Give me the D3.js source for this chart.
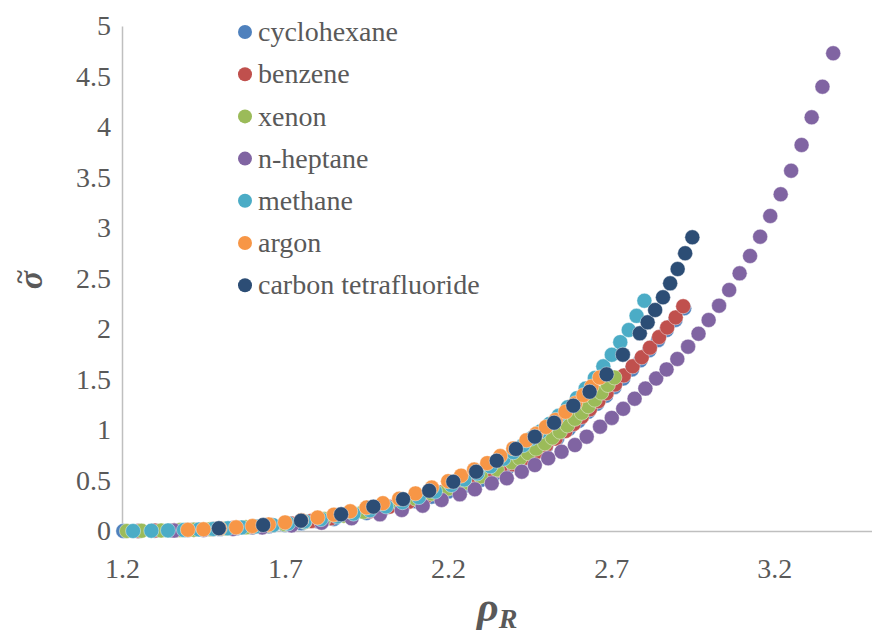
<!DOCTYPE html>
<html>
<head>
<meta charset="utf-8">
<script src="https://d3js.org/d3.v7.min.js"></script>
<style>
    body { margin: 0; background: #fff; }
    text { font-family: "Liberation Serif", "Times New Roman", serif; fill: #595959; }
</style>
</head>
<body>
<svg id="chart"></svg>
<script>
// Series data (rho_R, reduced surface tension)
const cyclohexaneX = [1.204, 1.25, 1.30, 1.35, 1.40, 1.45, 1.50, 1.55, 1.60, 1.65, 1.70, 1.75, 1.80, 1.85, 1.90, 1.95, 2.00, 2.05, 2.10, 2.15, 2.20, 2.25, 2.30, 2.34, 2.38, 2.42, 2.46, 2.50, 2.535, 2.57, 2.60, 2.63, 2.657, 2.684, 2.71, 2.737, 2.764, 2.79, 2.817, 2.844, 2.87, 2.897, 2.924];
const cyclohexaneY = [0, 0.001, 0.003, 0.005, 0.009, 0.013, 0.019, 0.026, 0.035, 0.046, 0.06, 0.076, 0.096, 0.12, 0.147, 0.178, 0.213, 0.252, 0.295, 0.34, 0.39, 0.445, 0.505, 0.56, 0.615, 0.675, 0.745, 0.835, 0.92, 1.01, 1.09, 1.18, 1.26, 1.34, 1.425, 1.51, 1.60, 1.69, 1.79, 1.89, 1.99, 2.09, 2.205];

const benzeneX = [1.25, 1.30, 1.36, 1.42, 1.48, 1.54, 1.60, 1.66, 1.72, 1.78, 1.84, 1.90, 1.96, 2.02, 2.08, 2.13, 2.18, 2.23, 2.28, 2.32, 2.36, 2.40, 2.44, 2.47, 2.50, 2.53, 2.56, 2.585, 2.61, 2.635, 2.661, 2.686, 2.712, 2.739, 2.766, 2.794, 2.819, 2.847, 2.872, 2.898, 2.921];
const benzeneY = [0, 0.004, 0.008, 0.013, 0.02, 0.029, 0.041, 0.056, 0.075, 0.098, 0.126, 0.158, 0.196, 0.24, 0.29, 0.335, 0.383, 0.435, 0.495, 0.545, 0.60, 0.66, 0.725, 0.78, 0.845, 0.915, 0.99, 1.06, 1.13, 1.205, 1.285, 1.365, 1.45, 1.54, 1.63, 1.72, 1.815, 1.92, 2.015, 2.115, 2.225];

const xenonX = [1.215, 1.26, 1.32, 1.378, 1.42, 1.47, 1.52, 1.58, 1.64, 1.70, 1.76, 1.82, 1.88, 1.94, 2.00, 2.05, 2.10, 2.15, 2.20, 2.25, 2.30, 2.35, 2.395, 2.42, 2.446, 2.47, 2.497, 2.52, 2.543, 2.566, 2.589, 2.61, 2.63, 2.65, 2.67, 2.69, 2.71];
const xenonY = [0, 0.002, 0.005, 0.009, 0.012, 0.018, 0.025, 0.036, 0.05, 0.068, 0.09, 0.118, 0.152, 0.19, 0.235, 0.275, 0.32, 0.37, 0.42, 0.475, 0.54, 0.61, 0.68, 0.72, 0.77, 0.815, 0.868, 0.925, 0.983, 1.045, 1.11, 1.17, 1.235, 1.30, 1.37, 1.445, 1.52];

const heptaneX = [1.36, 1.45, 1.54, 1.63, 1.72, 1.812, 1.904, 1.991, 2.058, 2.122, 2.18, 2.236, 2.282, 2.334, 2.38, 2.426, 2.466, 2.507, 2.548, 2.589, 2.625, 2.666, 2.702, 2.737, 2.772, 2.805, 2.838, 2.87, 2.903, 2.936, 2.968, 2.999, 3.031, 3.062, 3.094, 3.126, 3.157, 3.188, 3.22, 3.252, 3.284, 3.315, 3.348, 3.381];
const heptaneY = [0.004, 0.01, 0.02, 0.035, 0.055, 0.082, 0.126, 0.165, 0.208, 0.251, 0.307, 0.363, 0.413, 0.472, 0.522, 0.587, 0.653, 0.72, 0.785, 0.851, 0.934, 1.033, 1.12, 1.21, 1.31, 1.41, 1.51, 1.60, 1.703, 1.825, 1.953, 2.089, 2.231, 2.386, 2.551, 2.723, 2.914, 3.119, 3.334, 3.567, 3.822, 4.096, 4.399, 4.73];

const methaneX = [1.234, 1.29, 1.341, 1.39, 1.436, 1.48, 1.525, 1.567, 1.61, 1.663, 1.71, 1.76, 1.81, 1.86, 1.91, 1.96, 2.01, 2.06, 2.11, 2.16, 2.21, 2.25, 2.29, 2.33, 2.37, 2.40, 2.43, 2.455, 2.483, 2.511, 2.539, 2.567, 2.595, 2.622, 2.65, 2.676, 2.702, 2.728, 2.754, 2.778, 2.802];
const methaneY = [0, 0.003, 0.006, 0.01, 0.015, 0.02, 0.027, 0.035, 0.045, 0.058, 0.075, 0.095, 0.117, 0.143, 0.172, 0.205, 0.243, 0.285, 0.335, 0.39, 0.455, 0.51, 0.57, 0.64, 0.715, 0.78, 0.85, 0.915, 0.985, 1.06, 1.14, 1.225, 1.315, 1.41, 1.515, 1.63, 1.745, 1.87, 1.99, 2.13, 2.28];

const argonX = [1.402, 1.45, 1.50, 1.55, 1.60, 1.65, 1.70, 1.75, 1.80, 1.85, 1.90, 1.95, 2.00, 2.05, 2.10, 2.15, 2.20, 2.24, 2.28, 2.32, 2.36, 2.40, 2.44, 2.47, 2.50, 2.53, 2.56, 2.59, 2.615, 2.64, 2.665];
const argonY = [0.012, 0.017, 0.025, 0.036, 0.049, 0.065, 0.085, 0.107, 0.133, 0.162, 0.195, 0.233, 0.275, 0.32, 0.372, 0.43, 0.493, 0.548, 0.608, 0.672, 0.742, 0.818, 0.898, 0.962, 1.03, 1.10, 1.18, 1.265, 1.345, 1.43, 1.52];

const cf4X = [1.497, 1.633, 1.749, 1.872, 1.971, 2.062, 2.142, 2.216, 2.286, 2.349, 2.408, 2.466, 2.525, 2.584, 2.634, 2.686, 2.736, 2.788, 2.812, 2.835, 2.859, 2.881, 2.904, 2.927, 2.949];
const cf4Y = [0.027, 0.059, 0.102, 0.165, 0.241, 0.315, 0.399, 0.488, 0.587, 0.696, 0.812, 0.934, 1.072, 1.241, 1.379, 1.551, 1.746, 1.957, 2.066, 2.188, 2.314, 2.452, 2.594, 2.75, 2.908];

const seriesNames = ["cyclohexane", "benzene", "xenon", "n-heptane", "methane", "argon", "carbon tetrafluoride"];
const seriesColors = ["#4F81BD", "#C0504D", "#9BBB59", "#8064A2", "#4BACC6", "#F79646", "#2C4D75"];
const seriesX = [cyclohexaneX, benzeneX, xenonX, heptaneX, methaneX, argonX, cf4X];
const seriesY = [cyclohexaneY, benzeneY, xenonY, heptaneY, methaneY, argonY, cf4Y];

const xTicks = [1.2, 1.7, 2.2, 2.7, 3.2];
const yTicks = [0, 0.5, 1, 1.5, 2, 2.5, 3, 3.5, 4, 4.5, 5];

// Set up dimensions and margins
const margin = { top: 26, right: 0, bottom: 104, left: 122 };
const width = 872 - margin.left - margin.right;
const height = 635 - margin.top - margin.bottom;

const svg = d3.select("#chart")
    .attr("width", width + margin.left + margin.right)
    .attr("height", height + margin.top + margin.bottom);

const g = svg.append("g")
    .attr("transform", `translate(${margin.left},${margin.top})`);

const xScale = d3.scaleLinear().domain([1.2, 3.5]).range([0, width]);
const yScale = d3.scaleLinear().domain([0, 5]).range([height, 0]);

// Axes
const xAxis = g.append("g")
    .attr("transform", `translate(0,${height})`)
    .call(d3.axisBottom(xScale).tickValues(xTicks).tickSize(0).tickSizeOuter(0)
        .tickPadding(27).tickFormat(d3.format(".1f")));

const yAxis = g.append("g")
    .call(d3.axisLeft(yScale).tickValues(yTicks).tickSize(0).tickSizeOuter(0)
        .tickPadding(11).tickFormat(d => String(d)));

[xAxis, yAxis].forEach(ax => {
    ax.select(".domain").attr("stroke", "#BFBFBF").attr("stroke-width", 1.5);
    ax.selectAll("text")
        .attr("fill", "#595959")
        .style("font-family", "'Liberation Serif', 'Times New Roman', serif")
        .style("font-size", "28px");
});

// Axis titles
const xTitle = svg.append("text")
    .attr("x", 477)
    .attr("y", 621)
    .style("font-weight", "bold")
    .style("font-style", "italic")
    .style("font-size", "42px");
xTitle.append("tspan").text("ρ");
xTitle.append("tspan").attr("dy", 7).style("font-size", "28px").text("R");

// sigma with a tilde drawn above it (rotated, so "above" is to the left)
const yTitle = svg.append("g")
    .attr("transform", "translate(42,280) rotate(-90)")
    .style("font-weight", "bold")
    .style("font-style", "italic");
yTitle.append("text")
    .attr("text-anchor", "middle")
    .style("font-size", "34px")
    .text("σ");
yTitle.append("text")
    .attr("x", 3)
    .attr("y", -14)
    .attr("text-anchor", "middle")
    .style("font-size", "26px")
    .text("~");

// Points
seriesNames.forEach((name, i) => {
    const pts = seriesX[i].map((x, j) => ({ x: x, y: seriesY[i][j] }));
    g.append("g")
        .selectAll("circle")
        .data(pts)
        .enter()
        .append("circle")
        .attr("cx", d => xScale(d.x))
        .attr("cy", d => yScale(d.y))
        .attr("r", 7.5)
        .attr("fill", seriesColors[i])
        .attr("stroke", "#fff")
        .attr("stroke-width", 0.6)
        .attr("stroke-opacity", 0.7);
});

// Legend
const legend = svg.append("g");
seriesNames.forEach((name, i) => {
    const row = legend.append("g").attr("transform", `translate(245,${32 + i * 42.2})`);
    row.append("circle")
        .attr("r", 7)
        .attr("fill", seriesColors[i]);
    row.append("text")
        .attr("x", 13)
        .attr("dy", "0.33em")
        .style("font-size", "28px")
        .text(name);
});
</script>
</body>
</html>
